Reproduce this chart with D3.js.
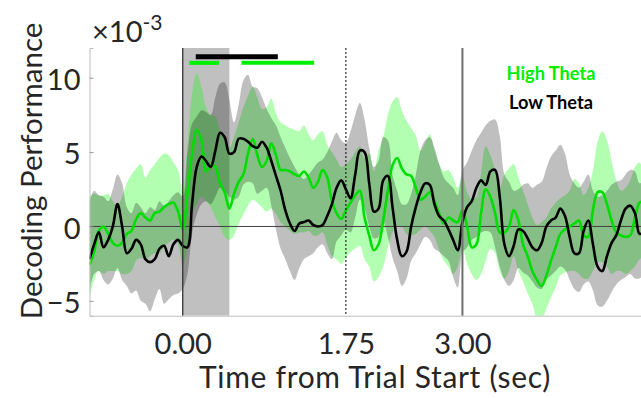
<!DOCTYPE html>
<html>
<head>
<meta charset="utf-8">
<script src="https://cdn.jsdelivr.net/npm/d3@7"></script>
<style>
  body { margin: 0; background: #fff; }
  text { font-family: Lato, "Open Sans", sans-serif; fill: #262626; }
</style>
</head>
<body>
<svg id="chart" width="641" height="398"></svg>
<script>
// sample times (sec), one value every 50 ms
var times = d3.range(0, 120).map(i => Math.round((-1 + i * 0.05) * 100) / 100)

// High Theta (green), x10^-3
var highMean = [-2.6,-1.7,-0.3,0,-0.5,-1.1,-1.3,-1.1,-0.5,-0.3,0.5,0.9,0.6,0.4,0.9,1.0,1.3,1.5,1.6,1.0,
  -0.2,2.2,4.9,6.5,5.8,3.7,4.1,4.0,2.9,2.3,1.2,2.2,3.0,3.5,4.9,5.9,4.8,4.0,4.4,5.6,
  4.8,3.8,3.8,3.7,3.5,3.4,3.7,3.3,2.6,3.0,3.8,3.3,1.7,0.9,0.5,1.1,1.6,2.1,2.4,0.6,
  -0.6,-1.6,-1.2,0.4,2.4,4.1,4.6,3.9,3.5,3.4,2.6,1.8,2.0,2.3,1.7,0.9,0.2,0.6,0.4,0.3,
  1.1,0,-1.4,-1.2,0.9,2.5,2.0,0.9,-0.4,-0.4,0,1.1,0.4,-1.2,-2.0,-3.0,-3.6,-4.0,-3.3,-2.3,
  -1.4,-0.5,-0.2,0,0.2,0.4,-0.6,-0.7,1.1,2.3,2.3,1.5,0.4,-0.4,-0.6,-0.7,-0.6,0.6,1.6,1.7]
var highHi = [2.0,2.2,2.1,2.1,2.2,1.7,1.4,2.0,2.9,3.5,3.9,4.2,3.3,3.8,4.2,4.6,4.9,4.8,4.3,3.8,
  2.3,5.6,8.9,10.3,9.4,8.0,7.5,7.4,6.5,6.0,5.3,6.0,7.0,8.0,8.8,9.4,8.7,7.9,8.0,8.6,
  7.6,7.0,6.8,6.6,6.5,6.4,6.8,6.2,5.8,6.2,6.4,5.5,5.0,4.5,4.0,4.2,4.5,5.0,5.4,4.6,
  4.9,3.7,5.1,6.0,7.5,8.4,8.7,7.8,7.1,6.6,6.1,5.1,5.6,6.2,5.1,4.2,3.7,3.8,3.3,2.6,
  3.4,2.3,1.8,2.0,3.6,5.4,4.8,3.8,2.6,3.5,3.9,4.2,3.3,2.4,1.5,0.6,0.1,0.3,0.6,1.2,
  1.6,1.9,2.1,2.4,3.2,2.9,2.1,2.6,3.8,5.7,6.4,5.8,4.4,3.1,2.4,2.6,3.1,4.0,4.3,3.5]
var highLo = [-4.8,-3.6,-3.0,-3.2,-3.0,-3.0,-3.0,-3.2,-3.2,-3.0,-2.3,-2.1,-2.3,-2.0,-1.8,-1.8,-1.4,-1.1,-0.9,-1.2,
  -2.7,-1.4,0.9,1.5,2.0,1.7,1.3,0.6,0,-0.7,-0.9,-0.6,0.2,0.8,1.4,1.8,1.6,1.3,1.0,1.2,
  0.8,0.3,0,-0.3,-0.5,-0.4,-0.4,-0.3,-0.6,-0.6,-0.4,-1.2,-2.0,-2.2,-2.5,-2.1,-1.7,-1.5,-1.3,-2.2,
  -2.7,-3.7,-3.4,-2.7,-1.4,-0.4,0,0,-0.5,-0.6,-0.5,-0.2,0,-0.3,-0.7,-1.6,-2.3,-2.7,-3.2,-2.7,
  -1.4,-2.5,-3.2,-3.6,-3.2,-2.3,-1.5,-1.8,-3.0,-3.5,-3.0,-2.0,-3.0,-3.7,-4.5,-5.2,-6.2,-6.3,-5.5,-4.8,
  -4.1,-3.3,-3.1,-3.0,-3.0,-3.2,-3.5,-3.5,-3.0,-2.4,-2.4,-2.7,-3.2,-3.0,-3.0,-3.2,-3.0,-2.7,-2.2,-2.1]

// Low Theta (black), x10^-3
var lowMean = [-2.2,-1.2,-0.4,-1.4,-0.9,0,1.5,0,-1.8,-1.5,-0.9,-1.2,-2.2,-2.4,-2.2,-1.5,-1.3,-2.0,-1.2,-0.9,
  -1.3,-1.4,1.5,4.0,4.7,4.4,4.0,5.1,6.3,6.0,4.9,5.0,5.9,5.9,5.7,5.4,5.3,5.7,5.3,4.4,
  3.4,2.4,1.1,0.2,-0.3,0.2,0.3,0.4,0.1,0,0.1,0.7,1.5,2.6,3.1,2.5,1.9,3.5,5.1,5.0,
  2.9,1.0,1.2,3.1,3.4,1.3,-0.9,-2.0,-1.7,0,1.3,2.3,2.9,2.8,1.5,0.7,0.4,-0.2,-0.9,-1.6,
  0.3,1.3,1.7,2.6,3.1,2.8,3.7,3.8,2.0,-1.2,-2.0,-1.3,-0.2,-0.3,-0.8,-1.4,-1.6,-1.1,0,0.4,
  0.6,1.2,0.7,-0.7,-1.8,-1.8,-0.3,0.4,-1.2,-2.7,-3.0,-2.0,-1.1,-0.6,0.4,1.2,1.4,0.9,-0.5,-0.3]
var lowHi = [1.7,2.4,2.1,2.0,1.7,2.5,3.5,2.9,1.3,0.9,1.6,1.3,0.9,1.3,1.1,1.7,1.4,1.7,2.1,2.3,
  2.0,4.9,6.9,7.4,7.8,7.7,7.5,8.7,9.6,9.7,8.5,7.0,8.2,9.8,10.2,9.4,9.3,8.7,7.9,7.3,
  6.8,6.0,5.3,4.6,4.0,3.5,3.2,3.5,3.9,4.3,4.5,5.0,5.7,6.3,5.8,5.6,6.4,7.5,8.3,7.2,
  5.3,4.0,4.4,6.0,5.8,3.5,2.4,1.5,1.5,2.2,3.5,5.1,5.8,6.0,5.3,4.2,3.3,2.9,2.6,2.1,
  3.8,4.3,5.1,5.8,6.3,6.8,7.1,7.2,6.1,3.5,3.0,2.4,2.5,2.8,2.9,2.6,2.8,3.0,3.9,4.7,
  5.1,5.5,4.9,3.5,2.9,2.6,3.0,3.5,2.4,2.0,2.1,2.4,2.8,3.0,3.1,3.5,3.8,3.7,2.9,3.1]
var lowLo = [-4.3,-3.2,-3.0,-3.6,-3.9,-3.5,-2.8,-3.6,-4.0,-4.5,-4.3,-5.0,-5.2,-5.7,-4.9,-4.2,-5.2,-4.9,-4.6,-4.5,
  -4.2,-3.2,-0.5,0.8,1.5,1.7,1.5,2.0,2.6,2.4,2.0,1.8,2.0,2.8,3.0,2.9,2.2,2.4,2.6,1.4,
  -0.2,-1.5,-2.2,-3.0,-3.6,-2.8,-2.2,-2.0,-1.8,-1.4,-1.2,-1.8,-2.2,-1.0,-0.6,-0.2,-0.4,0.6,1.8,1.2,
  0,-0.8,-0.7,0.3,-0.7,-2.1,-3.0,-4.0,-3.5,-2.3,-1.8,-1.2,-0.7,-0.9,-1.5,-1.7,-2.0,-2.3,-3.4,-4.1,
  -1.8,-1.4,-0.9,-0.7,-0.4,-0.3,-0.4,-1.4,-2.7,-3.6,-4.0,-3.6,-2.8,-3.1,-3.3,-3.7,-4.1,-4.2,-3.6,-3.3,
  -3.0,-2.7,-2.9,-3.6,-4.2,-4.4,-3.9,-3.7,-4.3,-5.3,-5.4,-5.0,-4.4,-3.9,-3.6,-3.4,-3.2,-3.5,-3.5,-3.2]

// significance bars (sec)
var sigHigh = [[0.07, 0.39], [0.63, 1.41]]
var sigLow = [[0.14, 1.02]]
var sigRow = {high: 11.0, low: 11.42}

var eventTimes = [0, 1.75, 3]
var xTicks = [0, 1.75, 3]
var yTicks = [-5, 0, 5, 10]
var stimWindow = [0, 0.5]

var svg = d3.select("#chart")
var x = d3.scaleLinear().domain([-1, 5]).range([89.5, 648.9])
var y = d3.scaleLinear().domain([-6, 12]).range([315.7, 48])

svg.append("defs").append("clipPath").attr("id", "clip")
    .append("rect")
    .attr("x", x(-1)).attr("y", y(12))
    .attr("width", x(5) - x(-1)).attr("height", y(-6) - y(12))

var plot = svg.append("g").attr("clip-path", "url(#clip)")

plot.append("rect")
    .attr("x", x(stimWindow[0])).attr("y", y(12))
    .attr("width", x(stimWindow[1]) - x(stimWindow[0]))
    .attr("height", y(-6) - y(12))
    .attr("fill", "#c0c0c0")

var band = (lo, hi) => d3.area()
    .x((d, i) => x(times[i]))
    .y0((d, i) => y(lo[i]))
    .y1((d, i) => y(hi[i]))
    .curve(d3.curveCatmullRom)(times)

var line = vals => d3.line()
    .x((d, i) => x(times[i]))
    .y(d => y(d))
    .curve(d3.curveCatmullRom)(vals)

plot.append("path").attr("d", band(highLo, highHi))
    .attr("fill", "#00ff00").attr("fill-opacity", 0.3)
plot.append("path").attr("d", band(lowLo, lowHi))
    .attr("fill", "#000").attr("fill-opacity", 0.25)

// zero line
plot.append("line")
    .attr("x1", x(-1)).attr("x2", x(5))
    .attr("y1", y(0)).attr("y2", y(0))
    .attr("stroke", "#404040").attr("stroke-width", 1)

plot.append("path").attr("d", line(highMean))
    .attr("fill", "none").attr("stroke", "#00dd00").attr("stroke-width", 2.6)
plot.append("path").attr("d", line(lowMean))
    .attr("fill", "none").attr("stroke", "#000").attr("stroke-width", 2.6)

// event markers
svg.selectAll(".event")
    .data(eventTimes)
    .enter()
        .append("line")
        .attr("class", "event")
        .attr("x1", d => x(d)).attr("x2", d => x(d))
        .attr("y1", y(12)).attr("y2", y(-6))
        .attr("stroke", (d, i) => ["#333", "#000", "#6e6e6e"][i])
        .attr("stroke-width", (d, i) => [1.3, 1, 2][i])
        .attr("stroke-dasharray", (d, i) => i === 1 ? "2,2" : null)

// significance bars
svg.selectAll(".sig-high")
    .data(sigHigh)
    .enter()
        .append("line")
        .attr("x1", d => x(d[0])).attr("x2", d => x(d[1]))
        .attr("y1", y(sigRow.high)).attr("y2", y(sigRow.high))
        .attr("stroke", "#00f000").attr("stroke-width", 4)
svg.selectAll(".sig-low")
    .data(sigLow)
    .enter()
        .append("line")
        .attr("x1", d => x(d[0])).attr("x2", d => x(d[1]))
        .attr("y1", y(sigRow.low)).attr("y2", y(sigRow.low))
        .attr("stroke", "#000").attr("stroke-width", 5)

// axes
var yAxis = svg.append("g")
    .attr("transform", "translate(" + x(-1) + ",0)")
    .call(d3.axisLeft(y).tickValues(yTicks).tickSize(-4).tickPadding(9))
yAxis.select(".domain").attr("stroke", "#bdbdbd")
yAxis.selectAll(".tick line").attr("stroke", "#9a9a9a")
yAxis.selectAll(".tick text")
    .attr("font-size", 29).attr("font-family", "Lato").attr("fill", "#262626")
    .attr("dy", "0.4em")

var xAxis = svg.append("g")
    .attr("transform", "translate(0," + y(-6) + ")")
    .call(d3.axisBottom(x).tickValues(xTicks).tickSize(0).tickPadding(18)
        .tickFormat(d3.format(".2f")))
xAxis.select(".domain").attr("stroke", "#bdbdbd")
xAxis.selectAll(".tick text")
    .attr("font-size", 29).attr("font-family", "Lato").attr("fill", "#262626")

// exponent label
var expo = svg.append("text").attr("x", 92).attr("y", 42).attr("font-size", 29)
expo.append("tspan").text("\u00d710")
expo.append("tspan").attr("dy", -12).attr("font-size", 21).text("-3")

svg.append("text")
    .attr("transform", "translate(42,171) rotate(-90)")
    .attr("text-anchor", "middle")
    .attr("font-size", 29.5)
    .text("Decoding Performance")

svg.append("text")
    .attr("x", 375).attr("y", 388)
    .attr("text-anchor", "middle")
    .attr("font-size", 30)
    .attr("letter-spacing", 0.7)
    .text("Time from Trial Start (sec)")

// legend
var legend = [{label: "High Theta", color: "#00ee00"}, {label: "Low Theta", color: "#000"}]
svg.selectAll(".legend")
    .data(legend)
    .enter()
        .append("text")
        .attr("x", 551).attr("y", (d, i) => 80 + i * 29)
        .attr("text-anchor", "middle")
        .attr("font-family", "Open Sans").attr("font-weight", "bold")
        .attr("font-size", 18.2)
        .style("fill", d => d.color)
        .text(d => d.label)
</script>
</body>
</html>
